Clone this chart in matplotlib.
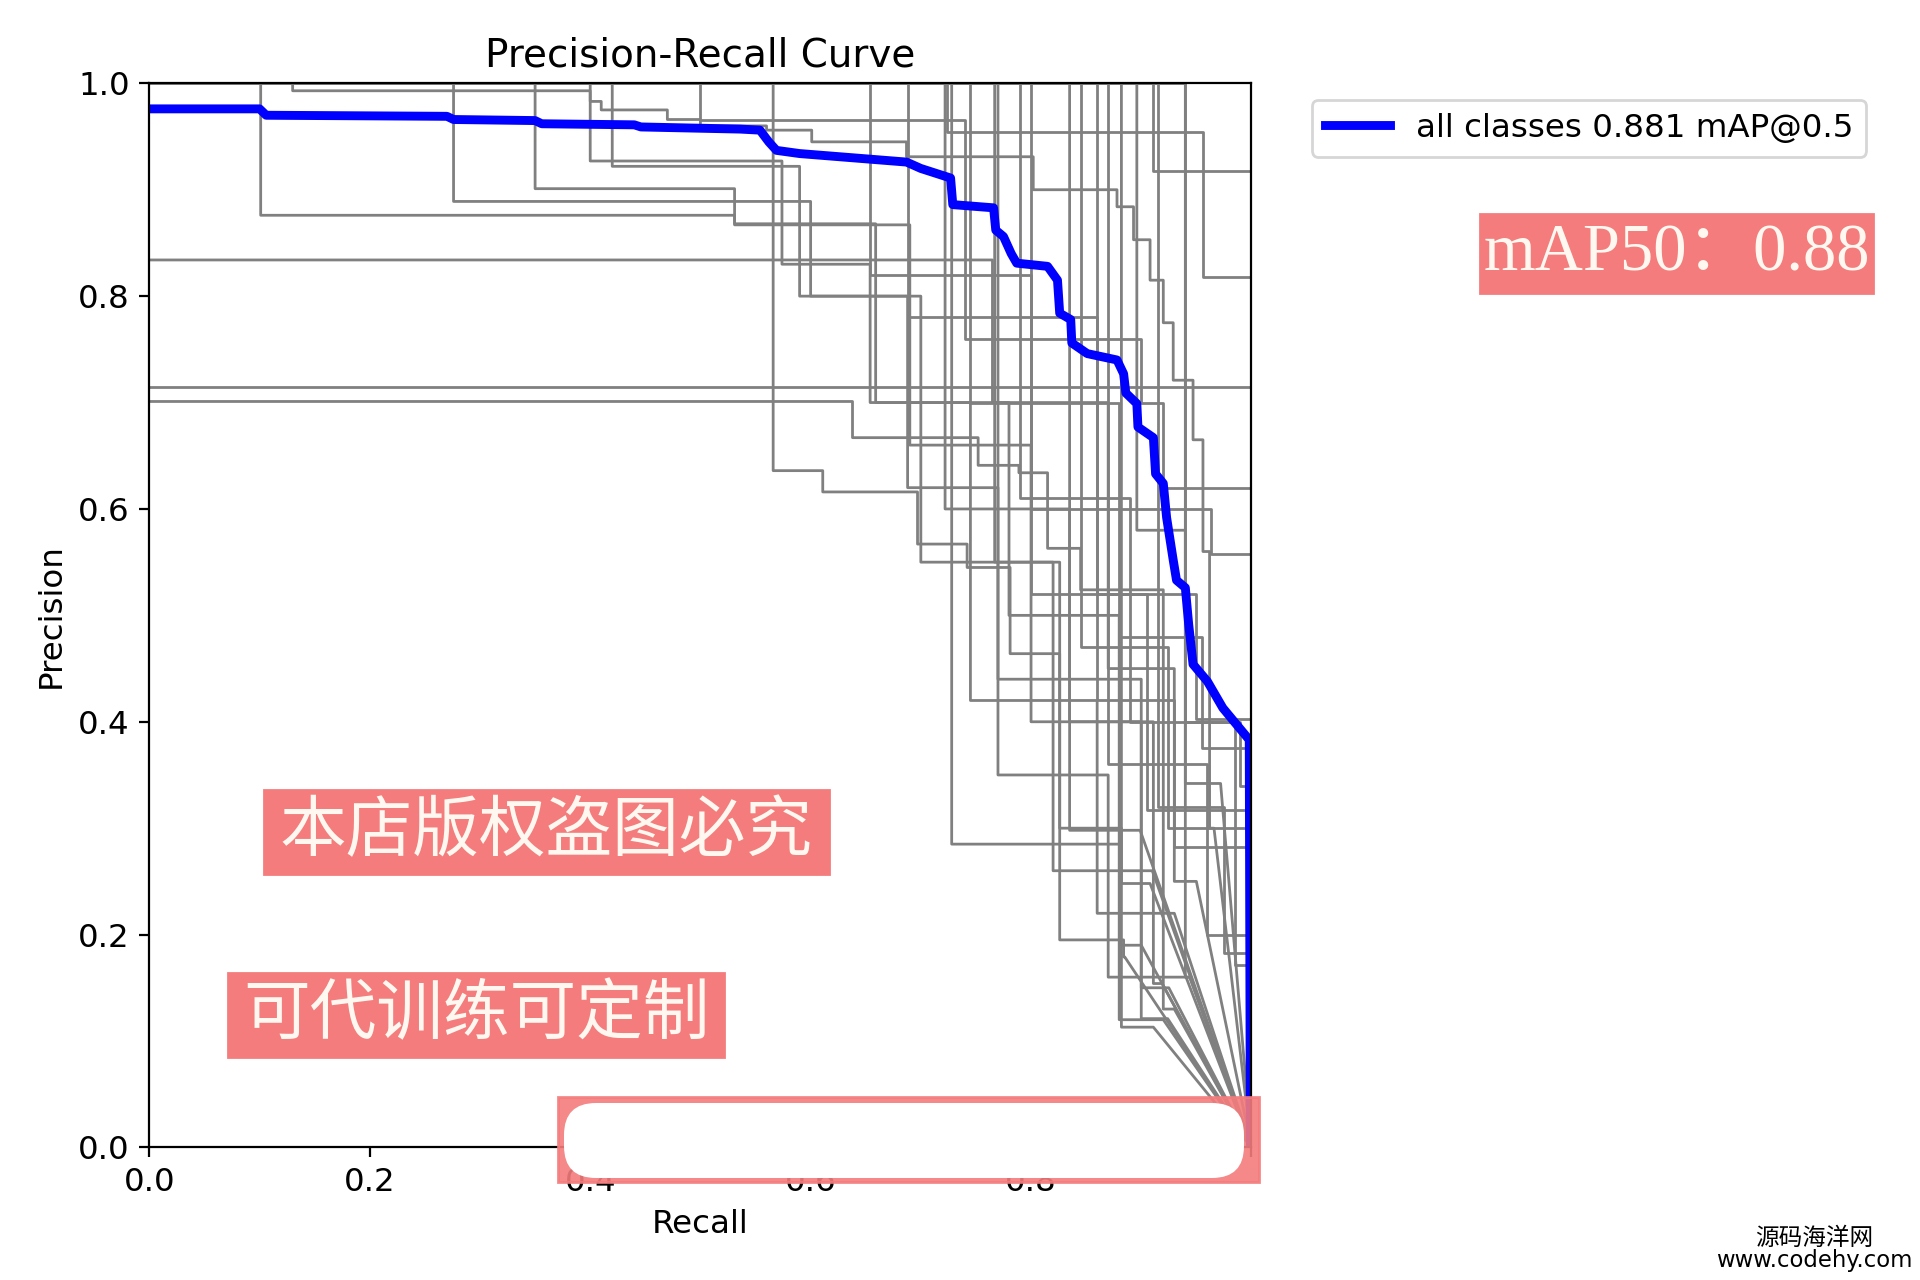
import matplotlib
matplotlib.use("Agg")
import matplotlib.pyplot as plt
import numpy as np
from matplotlib.patches import Rectangle, FancyBboxPatch
from matplotlib.transforms import IdentityTransform

# 全类别曲线 (recall, precision)
all_r = [0, 0.100, 0.106, 0.27, 0.276, 0.35, 0.356, 0.44, 0.446, 0.536, 0.554, 0.562, 0.569, 0.59,
         0.687, 0.70, 0.727, 0.729, 0.766, 0.768, 0.775, 0.782, 0.787, 0.815, 0.824, 0.826, 0.836,
         0.837, 0.851, 0.878, 0.884, 0.886, 0.896, 0.897, 0.911, 0.913, 0.920, 0.923, 0.929, 0.932,
         0.940, 0.943, 0.947, 0.960, 0.974, 0.998, 0.999]
all_p = [0.976, 0.976, 0.970, 0.969, 0.966, 0.965, 0.962, 0.961, 0.959, 0.957, 0.956, 0.945, 0.937, 0.934,
         0.926, 0.920, 0.911, 0.886, 0.883, 0.862, 0.856, 0.840, 0.831, 0.828, 0.815, 0.784, 0.778,
         0.756, 0.746, 0.740, 0.727, 0.709, 0.699, 0.677, 0.667, 0.633, 0.624, 0.592, 0.552, 0.533,
         0.526, 0.492, 0.454, 0.438, 0.413, 0.383, 0.0]
all_label = "all classes 0.881 mAP@0.5"

# 每个类别: 台阶右端的 recall 和对应的 precision
class_r = [
    [0.101, 0.531, 0.659, 0.745, 0.86, 0.93],
    [0.276, 0.600, 0.70, 0.82, 0.91],
    [0.35, 0.531, 0.69, 0.80, 0.90, 0.925],
    [0.40, 0.574, 0.654, 0.78, 0.88, 0.92],
    [0.42, 0.59, 0.688, 0.77, 0.87, 0.944],
    [0.566, 0.611, 0.697, 0.742, 0.781, 0.826, 0.884, 0.885],
    [0.728, 0.881, 0.90],
    [0.722, 0.835, 0.911, 0.919],
    [0.767, 0.826, 0.882, 0.911],
    [0.770, 0.90, 0.924],
    [0.835, 0.899],
    [0.882, 0.908],
    [0.896, 0.94, 0.944],
    [0.94, 0.972],
    [0.13, 0.40, 0.41, 0.47, 0.50, 0.56, 0.601, 0.687, 0.802, 0.878, 0.893, 0.908, 0.920, 0.929,
     0.947, 0.956, 0.962, 0.966],
    [0.765, 0.87, 0.93, 0.95],
    [1.0],
    [0.638, 0.752, 0.789, 0.815, 0.845, 0.92, 0.93],
    [0.724, 0.956, 1.0],
    [0.911, 1.0],
    [0.50, 0.74, 0.90, 0.92, 1.0],
    [0.654, 0.80, 0.963, 1.0],
    [0.688, 0.86, 0.95, 1.0],
    [0.745, 0.88, 0.955, 1.0],
    [0.79, 0.89, 0.99, 1.0],
    [0.80, 0.905, 1.0],
    [0.845, 0.924, 1.0],
    [0.86, 0.93, 1.0],
    [0.87, 0.96, 1.0],
    [0.915, 0.975, 1.0],
    [0.94, 0.985, 1.0],
]
class_p = [
    [1.0, 0.876, 0.868, 0.70, 0.42, 0.22],
    [1.0, 0.889, 0.80, 0.55, 0.26],
    [1.0, 0.901, 0.867, 0.66, 0.40, 0.15],
    [1.0, 0.927, 0.83, 0.70, 0.50, 0.12],
    [1.0, 0.922, 0.80, 0.62, 0.35, 0.16],
    [1.0, 0.636, 0.616, 0.567, 0.545, 0.464, 0.195, 0.179],
    [1.0, 0.285, 0.19],
    [1.0, 0.60, 0.40, 0.154],
    [1.0, 0.55, 0.30, 0.113],
    [1.0, 0.44, 0.121],
    [1.0, 0.298],
    [1.0, 0.248],
    [1.0, 0.58, 0.16],
    [1.0, 0.342],
    [1.0, 0.993, 0.983, 0.975, 0.966, 0.96, 0.956, 0.945, 0.931, 0.90, 0.884, 0.853, 0.815, 0.775,
     0.721, 0.665, 0.56, 0.30],
    [0.834, 0.70, 0.45, 0.25],
    [0.715],
    [0.701, 0.667, 0.641, 0.634, 0.563, 0.524, 0.13],
    [1.0, 0.954, 0.818],
    [1.0, 0.918],
    [1.0, 0.966, 0.76, 0.70, 0.62],
    [1.0, 0.82, 0.60, 0.558],
    [1.0, 0.78, 0.52, 0.403],
    [1.0, 0.70, 0.48, 0.375],
    [1.0, 0.61, 0.40, 0.34],
    [1.0, 0.52, 0.317],
    [1.0, 0.47, 0.30],
    [1.0, 0.42, 0.282],
    [1.0, 0.36, 0.20],
    [1.0, 0.32, 0.183],
    [1.0, 0.40, 0.171],
]

W, H = 1920, 1280
red = "#F47C7C"


def steps(R, P):
    # 台阶曲线, 最后一段直线连到 (1, 0)
    xs, ys = [0.0], [P[0]]
    for i in range(len(R)):
        xs.append(R[i])
        ys.append(P[i])
        if i + 1 < len(R):
            xs.append(R[i])
            ys.append(P[i + 1])
    xs.append(1.0)
    ys.append(0.0)
    return np.array(xs), np.array(ys)


def px_rect(x0, y0, x1, y1, **kw):
    return Rectangle((x0 / W, 1 - y1 / H), (x1 - x0) / W, (y1 - y0) / H,
                     transform=fig.transFigure, **kw)


plt.rcParams['font.family'] = ['DejaVu Sans', 'Noto Sans CJK SC']
plt.rcParams['font.size'] = 11.7

fig = plt.figure(figsize=(9.6, 6.4), dpi=200)
ax = fig.add_axes([0.0778, 0.1036, 0.574, 0.8313])

for R, P in zip(class_r, class_p):
    xs, ys = steps(R, P)
    ax.plot(xs, ys, color="grey", linewidth=1.0)
ax.plot(all_r, all_p, color="blue", linewidth=3.2, label=all_label)

ax.set_xlim(0, 1)
ax.set_ylim(0, 1)
ax.set_xlabel("Recall")
ax.set_ylabel("Precision")
ax.set_title("Precision-Recall Curve", fontsize=14)
ax.legend(bbox_to_anchor=(1.04, 1), loc="upper left")
fig.canvas.draw()
ax.get_xticklabels()[-1].set_visible(False)  # 被涂掉了

# 水印
fig.add_artist(px_rect(1480, 214, 1873, 293, color=red, zorder=10))
fig.text((1480 + 1873) / 2 / W, 1 - 254 / H, "mAP50：0.88", ha="center", va="center",
         fontsize=24, color="#FFF8F0", family=['Liberation Serif', 'Noto Sans CJK SC'], zorder=11)

fig.add_artist(px_rect(264, 790, 829, 874, color=red, zorder=10))
fig.text((264 + 829) / 2 / W, 1 - 832 / H, "本店版权盗图必究", ha="center", va="center",
         fontsize=24, color="#FFF8F0", family=['Noto Sans CJK SC'], zorder=11)

fig.add_artist(px_rect(228, 973, 724, 1057, color=red, zorder=10))
fig.text((228 + 724) / 2 / W, 1 - 1015 / H, "可代训练可定制", ha="center", va="center",
         fontsize=24, color="#FFF8F0", family=['Noto Sans CJK SC'], zorder=11)

fig.add_artist(px_rect(558, 1097, 1259, 1182, color=red, alpha=0.9, zorder=10))
fig.add_artist(FancyBboxPatch((564, H - 1178), 680, 75, boxstyle="round,pad=0,rounding_size=32",
                              transform=IdentityTransform(), facecolor="white", edgecolor="none",
                              zorder=11))

fig.text(1814 / W, 1 - 1238 / H, "源码海洋网", ha="center", va="center", fontsize=8.5,
         family=['Noto Sans CJK SC'], zorder=11)
fig.text(1814 / W, 1 - 1260 / H, "www.codehy.com", ha="center", va="center", fontsize=8.2,
         zorder=11)

fig.savefig("out.png", dpi=200)
